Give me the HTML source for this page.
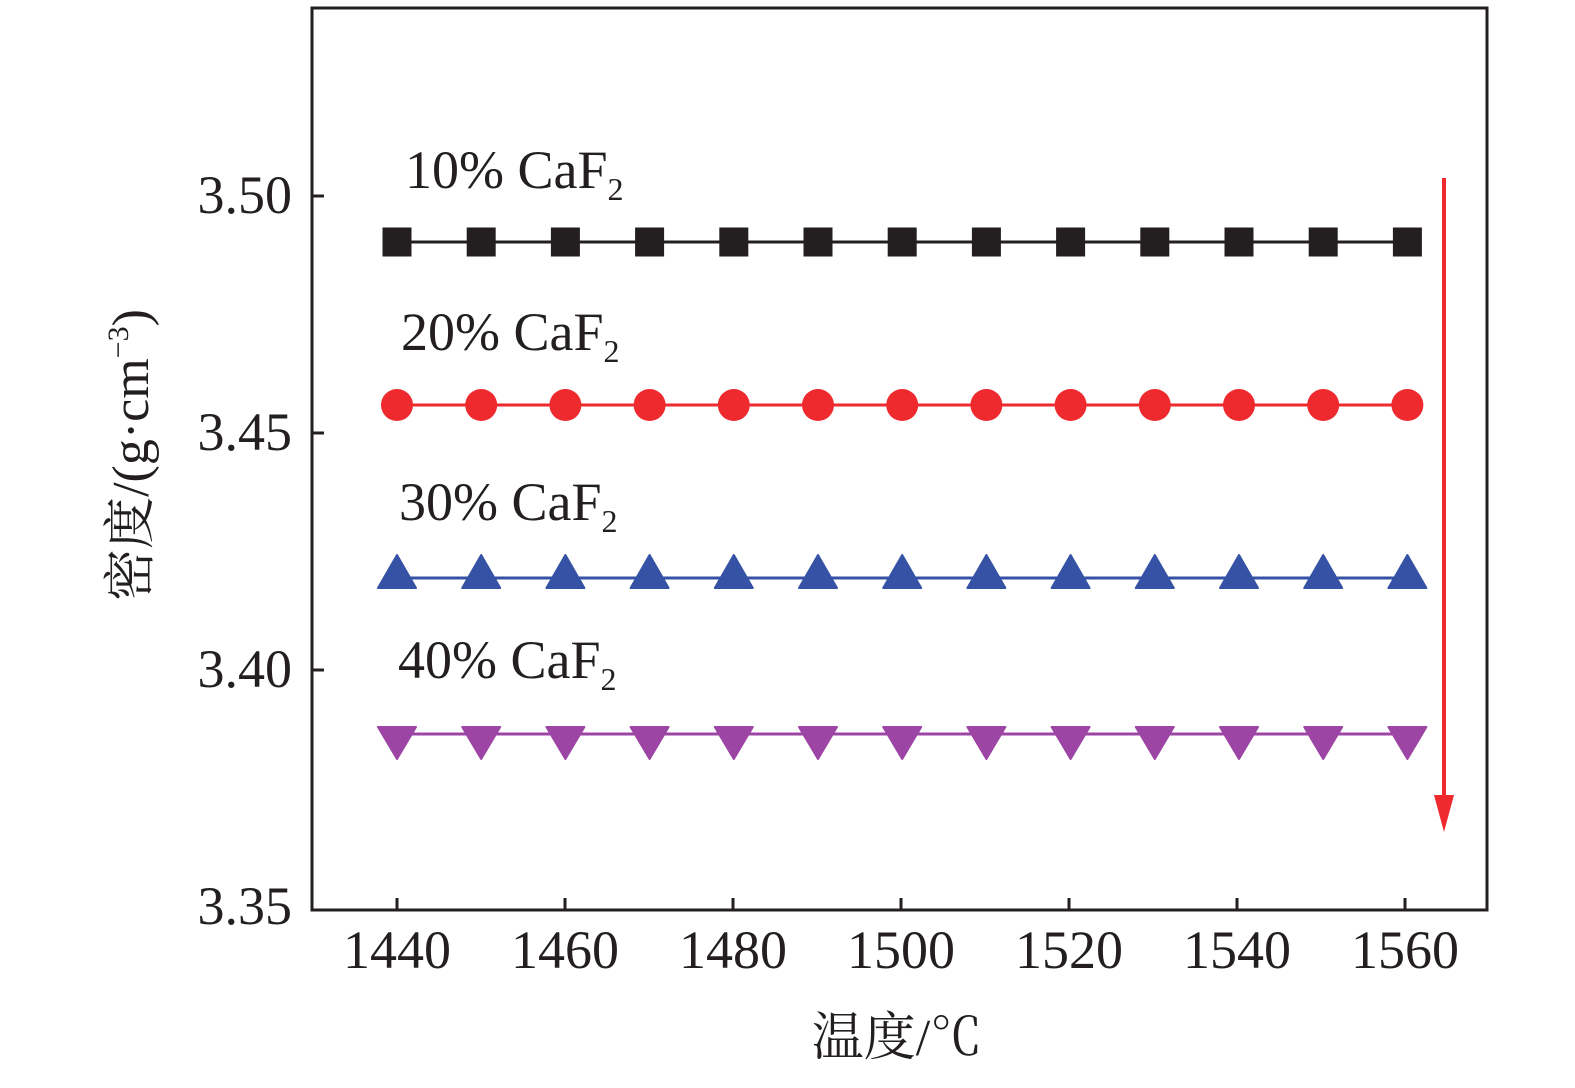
<!DOCTYPE html>
<html><head><meta charset="utf-8"><style>
html,body{margin:0;padding:0;background:#fff;}
svg text{font-family:"Liberation Serif","Noto Serif CJK SC",serif;fill:#231f20;}
</style></head><body>
<svg width="1575" height="1083" viewBox="0 0 1575 1083" xmlns="http://www.w3.org/2000/svg">
<defs>
<g id="sq"><rect x="-14.5" y="-14.5" width="29" height="29" fill="#231f20"/></g>
<g id="ci"><circle cx="0" cy="0" r="16" fill="#ee2a2f"/></g>
<g id="tu"><polygon points="-19,10 19,10 0,-23" fill="#3552a5" stroke="#3552a5" stroke-width="2" stroke-linejoin="round"/></g>
<g id="td"><polygon points="-19,-7 19,-7 0,25" fill="#9c45a4" stroke="#9c45a4" stroke-width="2" stroke-linejoin="round"/></g>
</defs>
<rect x="312" y="8" width="1175" height="902" fill="none" stroke="#231f20" stroke-width="3"/>
<g stroke="#231f20" stroke-width="3">
<line x1="397" y1="910" x2="397" y2="898"/><line x1="565" y1="910" x2="565" y2="898"/>
<line x1="733" y1="910" x2="733" y2="898"/><line x1="901" y1="910" x2="901" y2="898"/>
<line x1="1069" y1="910" x2="1069" y2="898"/><line x1="1237" y1="910" x2="1237" y2="898"/>
<line x1="1405" y1="910" x2="1405" y2="898"/>
<line x1="312" y1="196" x2="324" y2="196"/><line x1="312" y1="433" x2="324" y2="433"/>
<line x1="312" y1="670" x2="324" y2="670"/>
</g>
<g font-size="54" text-anchor="middle">
<text x="397" y="968">1440</text><text x="565" y="968">1460</text><text x="733" y="968">1480</text>
<text x="901" y="968">1500</text><text x="1069" y="968">1520</text><text x="1237" y="968">1540</text>
<text x="1405" y="968">1560</text>
</g>
<g font-size="54" text-anchor="end">
<text x="292" y="213">3.50</text><text x="292" y="450">3.45</text>
<text x="292" y="687">3.40</text><text x="292" y="924">3.35</text>
</g>
<text x="897" y="1055" font-size="52" text-anchor="middle">温度/℃</text>
<text transform="translate(148,455) rotate(-90)" font-size="52" text-anchor="middle">密度/(g·cm<tspan font-size="30" dy="-20">−3</tspan><tspan dy="20">)</tspan></text>
<g font-size="54">
<text x="405" y="188">10% CaF<tspan font-size="32" dy="12">2</tspan></text>
<text x="401" y="350">20% CaF<tspan font-size="32" dy="12">2</tspan></text>
<text x="399" y="520">30% CaF<tspan font-size="32" dy="12">2</tspan></text>
<text x="398" y="678">40% CaF<tspan font-size="32" dy="12">2</tspan></text>
</g>
<line x1="397" y1="242" x2="1407" y2="242" stroke="#231f20" stroke-width="3"/>
<line x1="397" y1="405" x2="1407" y2="405" stroke="#ee2a2f" stroke-width="3"/>
<line x1="397" y1="578" x2="1407" y2="578" stroke="#3552a5" stroke-width="3"/>
<line x1="397" y1="734" x2="1407" y2="734" stroke="#9c45a4" stroke-width="3"/>
<g transform="translate(0,242)">
<use href="#sq" x="397"/><use href="#sq" x="481.2"/><use href="#sq" x="565.4"/><use href="#sq" x="649.6"/><use href="#sq" x="733.8"/><use href="#sq" x="818"/><use href="#sq" x="902.2"/><use href="#sq" x="986.4"/><use href="#sq" x="1070.6"/><use href="#sq" x="1154.8"/><use href="#sq" x="1239"/><use href="#sq" x="1323.2"/><use href="#sq" x="1407.4"/>
</g>
<g transform="translate(0,405)">
<use href="#ci" x="397"/><use href="#ci" x="481.2"/><use href="#ci" x="565.4"/><use href="#ci" x="649.6"/><use href="#ci" x="733.8"/><use href="#ci" x="818"/><use href="#ci" x="902.2"/><use href="#ci" x="986.4"/><use href="#ci" x="1070.6"/><use href="#ci" x="1154.8"/><use href="#ci" x="1239"/><use href="#ci" x="1323.2"/><use href="#ci" x="1407.4"/>
</g>
<g transform="translate(0,578)">
<use href="#tu" x="397"/><use href="#tu" x="481.2"/><use href="#tu" x="565.4"/><use href="#tu" x="649.6"/><use href="#tu" x="733.8"/><use href="#tu" x="818"/><use href="#tu" x="902.2"/><use href="#tu" x="986.4"/><use href="#tu" x="1070.6"/><use href="#tu" x="1154.8"/><use href="#tu" x="1239"/><use href="#tu" x="1323.2"/><use href="#tu" x="1407.4"/>
</g>
<g transform="translate(0,734)">
<use href="#td" x="397"/><use href="#td" x="481.2"/><use href="#td" x="565.4"/><use href="#td" x="649.6"/><use href="#td" x="733.8"/><use href="#td" x="818"/><use href="#td" x="902.2"/><use href="#td" x="986.4"/><use href="#td" x="1070.6"/><use href="#td" x="1154.8"/><use href="#td" x="1239"/><use href="#td" x="1323.2"/><use href="#td" x="1407.4"/>
</g>
<line x1="1444" y1="178" x2="1444" y2="805" stroke="#ee2a2f" stroke-width="4"/>
<polygon points="1434,795 1454,795 1444,832" fill="#ee2a2f"/>
</svg>
</body></html>
